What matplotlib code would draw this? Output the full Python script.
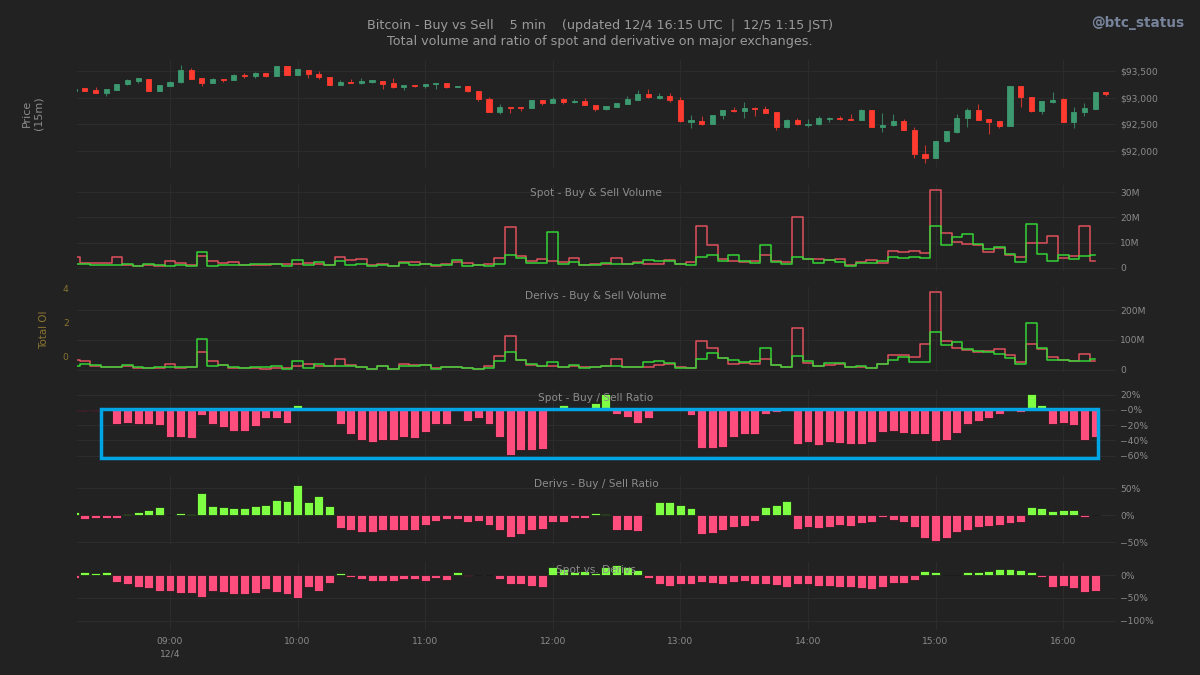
import matplotlib
matplotlib.use('Agg')
import matplotlib.pyplot as plt
import matplotlib.patches as mpatches
import pandas as pd

# candles, 5 min, first one at 08:15
price_open = [93125,93175,93145,93094,93144,93250,93319,93356,93131,93225,
              93288,93525,93363,93275,93356,93331,93431,93400,93456,93413,
              93588,93425,93525,93450,93388,93238,93294,93275,93300,93319,
              93275,93200,93244,93225,93250,93275,93206,93213,93125,92969,
              92738,92831,92831,92813,92963,92906,92975,92913,92931,92869,
              92781,92831,92888,92963,93063,93000,93031,92963,92550,92563,
              92506,92669,92775,92750,92813,92781,92725,92444,92575,92488,
              92500,92606,92619,92600,92588,92763,92450,92481,92563,92400,
              91950,91863,92181,92356,92613,92769,92594,92563,92463,93213,
              93013,92744,92919,92969,92550,92731,92794,93106]
price_close = [93170,93130,93095,93156,93263,93325,93363,93131,93238,93294,
               93525,93344,93275,93344,93325,93425,93400,93463,93413,93588,
               93425,93531,93438,93381,93238,93294,93275,93319,93331,93263,
               93200,93238,93219,93263,93281,93206,93225,93119,92969,92738,
               92831,92813,92813,92963,92900,92975,92919,92938,92869,92781,
               92838,92900,92969,93063,93006,93038,92963,92556,92575,92506,
               92669,92775,92744,92813,92781,92713,92444,92575,92500,92506,
               92613,92625,92594,92588,92763,92444,92488,92563,92394,91944,
               91863,92194,92369,92625,92775,92581,92550,92463,93213,93006,
               92744,92931,92963,92550,92738,92800,93106,93063]
price_high = [93170,93188,93195,93156,93263,93350,93363,93356,93238,93313,
              93613,93563,93363,93363,93356,93438,93456,93475,93463,93588,
              93588,93531,93525,93500,93388,93325,93350,93363,93331,93319,
              93363,93238,93244,93263,93281,93275,93225,93213,93125,93006,
              92875,92831,92831,92963,92963,93019,92988,92969,92988,92869,
              92838,92900,93038,93150,93163,93088,93081,93013,92669,92656,
              92669,92775,92831,92925,92819,92844,92725,92606,92625,92594,
              92663,92631,92663,92694,92788,92763,92713,92688,92606,92450,
              92113,92194,92369,92688,92800,92881,92594,92563,93213,93213,
              93013,92938,93100,92988,92831,92894,93106,93113]
price_low = [93125,93125,93090,93031,93144,93244,93269,93131,93131,93225,
             93281,93344,93225,93275,93300,93325,93369,93375,93394,93413,
             93425,93425,93375,93344,93238,93238,93269,93256,93281,93163,
             93188,93144,93206,93188,93156,93188,93194,93113,92938,92731,
             92688,92719,92750,92813,92869,92900,92881,92894,92863,92756,
             92769,92831,92881,92956,93000,92975,92925,92538,92438,92494,
             92506,92606,92731,92625,92656,92706,92394,92431,92494,92456,
             92481,92538,92581,92581,92581,92444,92363,92475,92388,91863,
             91781,91863,92169,92344,92450,92575,92319,92425,92463,92819,
             92731,92700,92894,92544,92431,92656,92781,93038]

# volumes in millions
spot_sell = [4.1,2.0,1.7,1.9,4.4,1.2,0.5,1.1,0.7,2.5,
             1.7,1.2,4.8,2.8,1.7,2.3,1.2,1.0,1.0,1.6,
             1.3,1.5,1.7,1.3,1.1,4.4,3.1,3.3,0.9,1.5,
             0.8,2.3,2.1,1.5,0.7,1.5,2.4,1.9,0.9,1.5,
             4.0,16.1,4.8,2.7,3.3,2.8,2.1,4.0,1.2,1.6,
             1.3,4.0,1.5,2.4,1.6,1.6,3.2,1.6,2.1,16.7,
             9.2,3.6,2.5,2.3,2.7,4.9,2.8,2.1,20.0,3.6,
             3.6,2.9,3.5,0.9,2.4,2.9,1.9,6.8,6.2,6.6,
             5.7,31.1,13.7,10.4,9.4,9.0,6.4,8.0,5.2,4.2,
             9.8,9.8,12.5,3.7,4.5,16.6,2.7]
spot_buy = [1.3,1.3,0.9,1.1,1.2,1.3,0.5,1.5,1.1,0.5,
            0.9,0.7,6.4,0.8,1.1,1.1,1.1,1.6,1.5,1.6,
            0.5,2.9,0.9,2.4,1.1,2.5,1.1,1.3,0.5,1.2,
            0.8,1.7,1.2,1.6,1.1,0.9,3.1,0.5,1.1,0.7,
            1.5,5.0,3.7,1.7,2.0,14.3,1.6,2.1,0.9,1.2,
            1.7,1.5,1.5,2.0,3.2,2.8,2.5,1.5,0.9,4.4,
            5.2,2.8,5.2,2.8,1.9,9.2,2.1,1.3,4.4,3.3,
            1.7,3.1,2.4,0.8,1.7,2.0,2.5,4.4,4.0,4.4,
            4.0,16.6,9.0,12.1,13.4,9.4,7.4,8.4,5.3,2.3,
            17.3,5.6,2.7,5.0,3.6,4.5,4.9]
deriv_sell = [33,31,13,9,10,13,6,6,8,19,
              6,10,61,30,17,8,6,7,4,8,
              6,13,19,13,13,38,18,11,4,13,
              3,20,18,16,7,9,10,6,4,13,
              48,114,33,16,13,14,9,13,11,9,
              13,36,9,9,10,17,20,9,6,98,
              73,39,20,24,19,36,16,11,140,24,
              13,17,20,10,9,8,20,49,51,44,
              88,260,98,72,67,60,64,69,51,27,
              88,71,44,33,30,54,31]
deriv_buy = [14,21,17,9,10,18,10,8,10,11,
             10,11,102,13,17,9,6,10,9,13,
             4,29,6,19,13,13,12,9,4,13,
             3,13,13,16,4,10,10,8,4,6,
             31,61,33,21,13,27,10,17,6,9,
             12,14,9,9,28,31,22,8,6,37,
             57,39,32,26,31,72,16,10,48,30,
             13,22,24,11,14,8,20,33,43,28,
             27,128,84,93,70,63,59,54,41,21,
             157,72,32,32,30,30,37]

# ratios in percent
spot_ratio = [-1,-1,-1,0,-18,-17,-19,-18,-20,-35,
              -35,-37,-7,-19,-22,-28,-28,-21,-11,-10,
              -17,6,0,0,0,-18,-31,-39,-42,-40,
              -39,-36,-37,-29,-18,-18,-1,-14,-11,-19,
              -36,-59,-53,-52,-51,0,6,0,0,9,
              21,-5,-9,-17,-11,0,0,0,-7,-50,
              -50,-48,-36,-32,-31,-5,-3,0,-44,-42,
              -46,-42,-43,-45,-44,-42,-29,-27,-30,-32,
              -32,-41,-39,-30,-19,-14,-10,-5,-1,-3,
              21,7,-19,-17,-20,-40,-35]
deriv_ratio = [6,-7,-5,-5,-4,3,6,10,15,0,
               4,2,41,17,15,14,14,17,20,28,
               26,57,25,35,18,-23,-27,-30,-31,-27,
               -28,-28,-27,-17,-11,-6,-7,-12,-11,-17,
               -28,-40,-34,-28,-25,-13,-12,-5,-4,4,
               3,-27,-28,-29,0,24,24,20,14,-35,
               -32,-28,-21,-19,-10,15,19,27,-25,-21,
               -23,-21,-17,-19,-15,-12,-3,-9,-13,-21,
               -41,-48,-41,-31,-27,-21,-19,-17,-15,-12,
               15,13,8,9,9,-3,0]
cross_ratio = [-7,6,4,6,-15,-20,-26,-28,-34,-34,
               -39,-39,-47,-35,-37,-42,-42,-39,-31,-37,
               -42,-50,-26,-34,-18,5,-5,-9,-12,-14,
               -12,-8,-9,-12,-7,-11,6,-2,0,-1,
               -9,-19,-20,-25,-27,18,13,7,9,5,
               18,22,18,12,-7,-20,-23,-20,-20,-16,
               -18,-20,-15,-13,-20,-19,-21,-26,-19,-20,
               -23,-23,-26,-26,-29,-30,-26,-18,-17,-10,
               9,7,1,1,7,7,9,13,14,10,
               6,-5,-26,-25,-28,-38,-34]

candle_times = pd.date_range('2024-12-04 08:15', periods=len(price_open), freq='5min')
bar_times = candle_times[:len(spot_ratio)]
hour_ticks = pd.date_range('2024-12-04 09:00', periods=8, freq='h')
hour_labels = ['09:00\n12/4', '10:00', '11:00', '12:00', '13:00', '14:00', '15:00', '16:00']

BG = '#222222'
GRID = '#2c2c2c'
TXT = '#8c8c8c'
GOLD = '#8a7430'
X_LEFT = pd.Timestamp('2024-12-04 08:16:16')
X_RIGHT = pd.Timestamp('2024-12-04 16:24:50')

fig = plt.figure(figsize=(12, 6.75), dpi=100, facecolor=BG)


def make_panel(top, bottom, ylim, ticks, labels):
    ax = fig.add_axes([77/1200, 1-bottom/675, (1116-77)/1200, (bottom-top)/675], facecolor=BG)
    ax.set_xlim(X_LEFT, X_RIGHT)
    ax.set_ylim(ylim)
    ax.set_xticks(hour_ticks)
    ax.set_xticklabels([])
    ax.set_yticks(ticks)
    ax.set_yticklabels(labels)
    ax.yaxis.tick_right()
    ax.tick_params(length=0, labelsize=6.6, labelcolor=TXT, pad=3)
    ax.grid(True, color=GRID, linewidth=0.8)
    ax.set_axisbelow(True)
    for s in ax.spines.values():
        s.set_visible(False)
    return ax


def panel_title(y_px, text):
    fig.text(596/1200, 1-y_px/675, text, ha='center', va='center', fontsize=7.6, color=TXT, zorder=5)


def ratio_bars(ax, values):
    colors = ['#7fff44' if v >= 0 else '#ff4d7d' for v in values]
    ax.bar(bar_times, values, width=4.2/1440, color=colors, edgecolor='#141414', linewidth=0.5, zorder=3)


# price
ax1 = make_panel(60, 168, (91681, 93706), [92000, 92500, 93000, 93500],
                 ['$92,000', '$92,500', '$93,000', '$93,500'])
for t, o, h, l, c in zip(candle_times, price_open, price_high, price_low, price_close):
    col = '#3d9970' if c >= o else '#ff3b30'
    ax1.vlines(t, l, h, color=col, linewidth=0.8, alpha=0.75, zorder=2)
    ax1.bar(t, abs(c-o), bottom=min(o, c), width=2.4/1440, color=col, edgecolor=col, linewidth=0.6, zorder=3)

# spot volume
ax2 = make_panel(185, 271, (-1.3, 32.9), [0, 10, 20, 30], ['0', '10M', '20M', '30M'])
ax2.step(bar_times, spot_sell, where='mid', color='#e0505e', linewidth=1.1, zorder=3)
ax2.step(bar_times, spot_buy, where='mid', color='#35d335', linewidth=1.1, zorder=4)
panel_title(193, 'Spot - Buy & Sell Volume')

# deriv volume, with the empty open interest scale on the left
ax3 = make_panel(287, 372, (-6.7, 276.7), [0, 100, 200], ['0', '100M', '200M'])
ax3.step(bar_times, deriv_sell, where='mid', color='#e0505e', linewidth=1.1, zorder=3)
ax3.step(bar_times, deriv_buy, where='mid', color='#35d335', linewidth=1.1, zorder=4)
panel_title(296, 'Derivs - Buy & Sell Volume')
ax3b = ax3.twinx()
ax3.yaxis.tick_right()
ax3b.set_ylim(-0.94, 4.06)
ax3b.set_yticks([0, 2, 4])
ax3b.yaxis.tick_left()
ax3b.tick_params(length=0, labelsize=6.6, labelcolor=GOLD, pad=6)
ax3b.grid(False)
for s in ax3b.spines.values():
    s.set_visible(False)

# ratios
ax4 = make_panel(390, 460, (-65.6, 26.2), [-60, -40, -20, 0, 20], ['−60%', '−40%', '−20%', '−0%', '20%'])
ratio_bars(ax4, spot_ratio)
panel_title(398, 'Spot - Buy / Sell Ratio')

ax5 = make_panel(476, 544, (-53, 72.8), [-50, 0, 50], ['−50%', '0%', '50%'])
ratio_bars(ax5, deriv_ratio)
panel_title(484, 'Derivs - Buy / Sell Ratio')

ax6 = make_panel(562, 630, (-120, 28.4), [-100, -50, 0], ['−100%', '−50%', '0%'])
ratio_bars(ax6, cross_ratio)
panel_title(570, 'Spot vs. Derivs')
ax6.set_xticklabels(hour_labels, fontsize=6.6, color=TXT, linespacing=1.5)
ax6.tick_params(axis='x', pad=5)

# header and side labels
fig.text(600/1200, 1-26/675, 'Bitcoin - Buy vs Sell    5 min    (updated 12/4 16:15 UTC  |  12/5 1:15 JST)',
         ha='center', va='center', fontsize=9.2, color='#9a9a9a')
fig.text(600/1200, 1-42/675, 'Total volume and ratio of spot and derivative on major exchanges.',
         ha='center', va='center', fontsize=9.2, color='#9a9a9a')
fig.text(1184/1200, 1-23/675, '@btc_status', ha='right', va='center', fontsize=9.8, fontweight='bold', color='#76839a')
fig.text(33/1200, 1-113/675, 'Price\n(15m)', rotation=90, ha='center', va='center', fontsize=8, color=TXT, linespacing=1.2)
fig.text(44/1200, 1-330/675, 'Total OI', rotation=90, ha='center', va='center', fontsize=7.4, color=GOLD)

# blue box drawn on top of the chart
box = mpatches.Rectangle((100.5/1200, 1-457.5/675), 997/1200, 49/675, transform=fig.transFigure,
                         fill=False, edgecolor='#00a5e6', linewidth=2.5, zorder=20)
fig.add_artist(box)

fig.savefig('out.png', dpi=100, facecolor=BG)
